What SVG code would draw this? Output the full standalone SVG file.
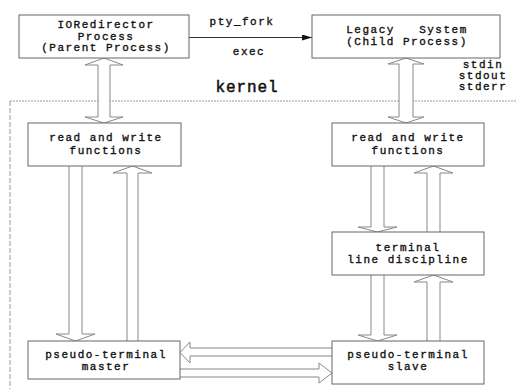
<svg xmlns="http://www.w3.org/2000/svg" width="517" height="389" viewBox="0 0 517 389">
<style>
.box{fill:#fff;stroke:#666;stroke-width:1}
.arr{fill:#fff;stroke:#888;stroke-width:1}
.t{font-family:"Liberation Mono",monospace;font-size:11px;letter-spacing:1.5px;fill:#111;stroke:#111;stroke-width:0.35;text-anchor:middle;white-space:pre}
.k{font-family:"Liberation Mono",monospace;font-size:16px;letter-spacing:0.9px;fill:#111;stroke:#111;stroke-width:0.5;text-anchor:middle}
.kb{fill:none;stroke:#999;stroke-width:1}
</style>
<defs>
<marker id="ah" markerWidth="10" markerHeight="6" refX="10" refY="3" orient="auto" markerUnits="userSpaceOnUse">
<path d="M0,0 L10,3 L0,6 Z" fill="#111"/>
</marker>
</defs>
<rect width="517" height="389" fill="#fff"/>
<g id="kernel">
<line class="kb" x1="10" y1="101" x2="517" y2="101" stroke-dasharray="2,1"/>
<line class="kb" x1="10" y1="101" x2="10" y2="389" stroke-dasharray="5,2"/>
<text class="k" x="247" y="92">kernel</text>
</g>
<g id="connectors">
<line x1="189" y1="37.5" x2="312" y2="37.5" stroke="#333" stroke-width="1" marker-end="url(#ah)"/>
<text class="t" x="242" y="25">pty_fork</text>
<text class="t" x="249" y="55">exec</text>
<path class="arr" d="M104,58 L123,65 H110 V117 H123 L104,123 L85,117 H98 V65 H85 Z"/>
<path class="arr" d="M406,58 L424,64 H413 V117 H424 L406,123 L388,117 H399 V64 H388 Z"/>
<path class="arr" d="M69,166 V334 H56 L75.5,341 L95,334 H82 V166"/>
<path class="arr" d="M127,341 V173 H113 L132.5,166 L152,173 H138 V341"/>
<path class="arr" d="M371,166 V227 H358 L377.5,232 L397,227 H384 V166"/>
<path class="arr" d="M427,232 V173 H414 L433.5,166 L453,173 H440 V232"/>
<path class="arr" d="M371,275 V335 H358 L377.5,341 L397,335 H384 V275"/>
<path class="arr" d="M427,341 V282 H414 L433.5,275 L453,282 H440 V341"/>
<path class="arr" d="M332,348 H190 V342 L180,352.5 L190,363 V356 H332"/>
<path class="arr" d="M180,369 H319 V363 L332,373 L319,383 V377 H180"/>
<text class="t" x="483" y="68">stdin</text>
<text class="t" x="483" y="79">stdout</text>
<text class="t" x="483" y="90">stderr</text>
</g>
<g id="ioredirector">
<rect class="box" x="19" y="15" width="170" height="43"/>
<text class="t" x="106" y="28">IORedirector</text>
<text class="t" x="106" y="40">Process</text>
<text class="t" x="106" y="51">(Parent Process)</text>
</g>
<g id="legacy">
<rect class="box" x="312" y="15" width="188" height="43"/>
<text class="t" x="407" y="33">Legacy   System</text>
<text class="t" x="407" y="45">(Child Process)</text>
</g>
<g id="rw-left">
<rect class="box" x="28" y="123" width="153" height="43"/>
<text class="t" x="106" y="141">read and write</text>
<text class="t" x="106" y="154">functions</text>
</g>
<g id="rw-right">
<rect class="box" x="332" y="123" width="152" height="43"/>
<text class="t" x="408" y="141">read and write</text>
<text class="t" x="408" y="154">functions</text>
</g>
<g id="line-discipline">
<rect class="box" x="332" y="232" width="152" height="43"/>
<text class="t" x="408" y="251">terminal</text>
<text class="t" x="408" y="263">line discipline</text>
</g>
<g id="pty-master">
<rect class="box" x="28" y="341" width="152" height="38"/>
<text class="t" x="106" y="358">pseudo-terminal</text>
<text class="t" x="106" y="370">master</text>
</g>
<g id="pty-slave">
<rect class="box" x="332" y="341" width="152" height="43"/>
<text class="t" x="408" y="358">pseudo-terminal</text>
<text class="t" x="408" y="370">slave</text>
</g>
</svg>
